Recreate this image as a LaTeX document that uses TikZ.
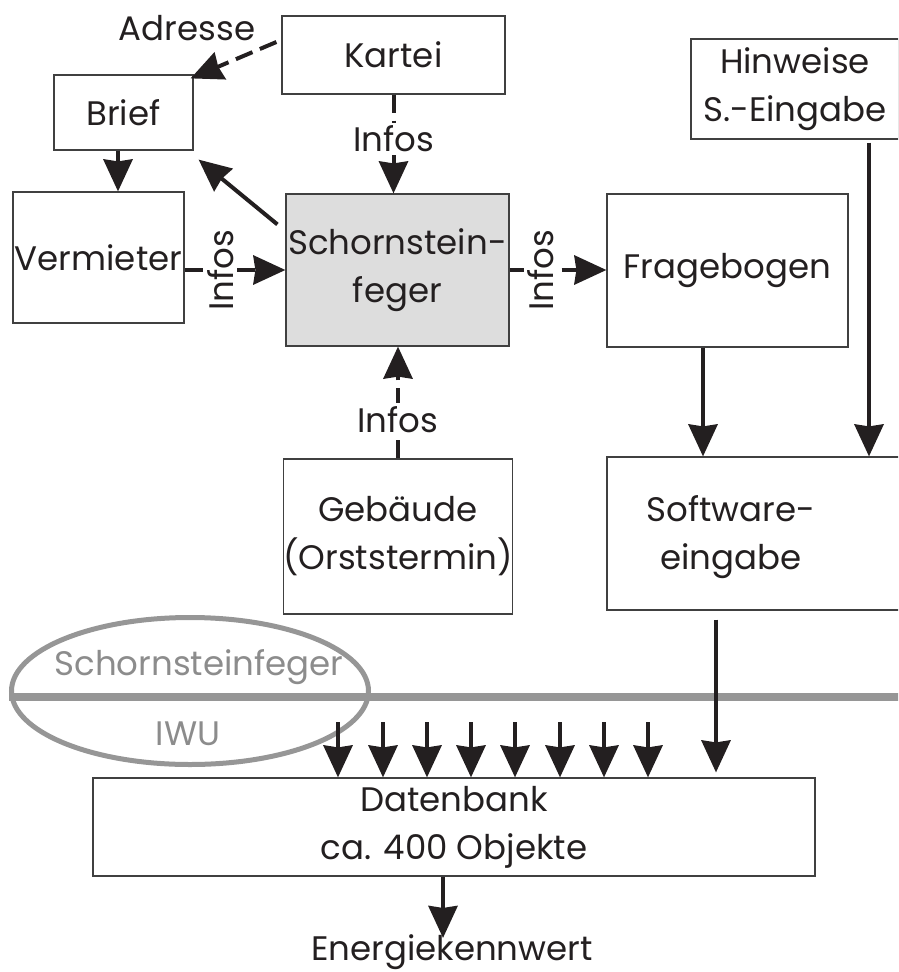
\documentclass[tikz,border=0pt]{standalone}
\usepackage{fontspec}
\setmainfont{Poppins}
\usetikzlibrary{arrows.meta,shapes.geometric}
\definecolor{pfeilfarbe}{RGB}{35,31,32}
\definecolor{grenzgrau}{RGB}{150,150,150}
\definecolor{grautext}{RGB}{140,140,140}
\definecolor{feldgrau}{RGB}{221,221,221}

\begin{document}
\begin{tikzpicture}[x=1pt, y=-1pt,
    every node/.style={font=\fontsize{34}{48}\selectfont, text=pfeilfarbe},
    kasten/.style={draw=black!75, line width=1.2pt, align=center, inner sep=0pt},
    pfeil/.style={draw=pfeilfarbe, line width=4pt, -{Stealth[length=32pt, width=29pt, inset=2pt]}},
    strich/.style={pfeil, dash pattern=on 18pt off 8pt},
    infos/.style={fill=white, inner sep=3pt}]
        \useasboundingbox (0,0) rectangle (898,972);
        \clip (0,0) rectangle (898,972);

        % Kaesten
        \node[kasten, minimum width=223pt, minimum height=78pt] (kartei) at (393.5,55) {Kartei};
        \node[kasten, minimum width=139pt, minimum height=75pt] (brief) at (123.5,112.5) {Brief};
        \node[kasten, minimum width=171pt, minimum height=131pt] (vermieter) at (98.5,257.5) {Vermieter};
        \node[kasten, fill=feldgrau, minimum width=223pt, minimum height=152pt] (schorn) at (397.5,270) {Schornstein-\\feger};
        \node[kasten, minimum width=241pt, minimum height=153pt] (frage) at (727.5,270.5) {Fragebogen};
        \node[kasten, minimum width=208pt, minimum height=100pt] (hinweise) at (795,89) {Hinweise\\S.-Eingabe};
        \node[kasten, minimum width=300pt, minimum height=153pt] (software) at (757,533.5) {};
        \node[align=center] (softtext) at (731,537) {Software-\\eingabe};
        \node[kasten, minimum width=224pt, minimum height=155pt] (gebaeude) at (398,536.5) {Gebäude\\(Orststermin)};
        \node[kasten, minimum width=722pt, minimum height=98pt] (datenbank) at (454,827) {Datenbank\\ca. 400 Objekte};
        \node (energie) at (452,952) {Energiekennwert};
        \node (adresse) at (187,28.5) {Adresse};

        % Grenze Schornsteinfeger / IWU
        \node[ellipse, draw=grenzgrau, line width=5pt, minimum width=357pt, minimum height=147pt] (grenze) at (190,691) {};
        \coordinate (rechts) at (900,697);
        \draw[grenzgrau, line width=8pt] (grenze.west |- rechts) -- (rechts);
        \node[text=grautext] (sf) at (199,667) {Schornsteinfeger};
        \node[text=grautext] (iwu) at (188,734) {IWU};

        % Pfeile
        \draw[strich] ([shift={(-5,-13)}]kartei.west) -- ([shift={(-3,4)}]brief.north east);
        \draw[strich] (kartei.south) -- node[infos, pos=0.45] {Infos} (kartei.south |- schorn.north);
        \draw[pfeil] ([xshift=-5.5pt]brief.south) -- ([xshift=-5.5pt]brief.south |- vermieter.north);
        \draw[pfeil] ([shift={(-8,31)}]schorn.north west) -- ([shift={(5,9)}]brief.south east);
        \draw[strich] (vermieter.east |- schorn.west) -- node[infos, rotate=90, pos=0.36] {Infos} (schorn.west);
        \draw[strich] (schorn.east) -- node[infos, rotate=90, pos=0.32] {Infos} (schorn.east -| frage.west);
        \draw[strich] (gebaeude.north) -- node[infos, pos=0.35] {Infos} (gebaeude.north |- schorn.south);
        \draw[pfeil] ([xshift=-24.5pt]frage.south) -- ([xshift=-24.5pt]frage.south |- software.north);
        \draw[pfeil, shorten <=3pt] ([xshift=74pt]hinweise.south) -- ([xshift=74pt]hinweise.south |- software.north);
        \draw[pfeil, shorten <=9pt, shorten >=5pt] ([xshift=-41pt]software.south) -- ([xshift=-41pt]software.south |- datenbank.north);
        \foreach \x in {338,383,427,471,515,560,604,648} {
            \coordinate (k\x) at (\x,722);
            \draw[pfeil] (k\x) -- (k\x |- datenbank.north);
        }
        \draw[pfeil, shorten >=-7pt] ([xshift=-11pt]datenbank.south) -- ([xshift=-11pt]datenbank.south |- energie.north);
    \end{tikzpicture}
\end{document}
